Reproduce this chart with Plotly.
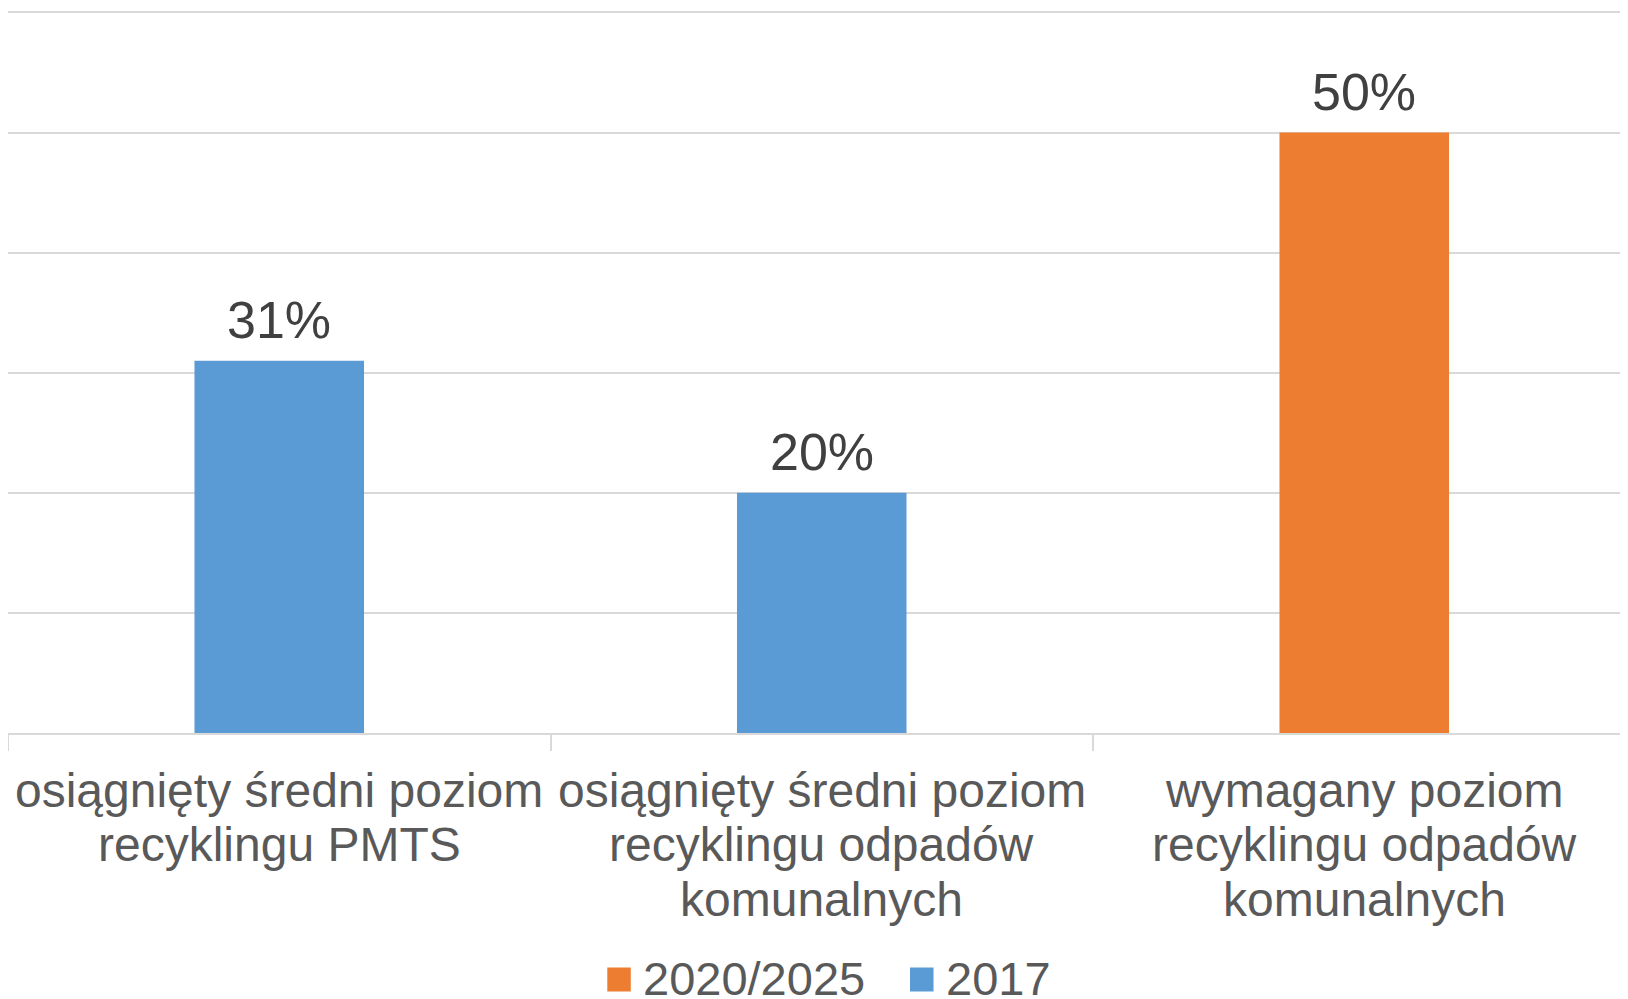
import plotly.graph_objects as go

# ---- data ----
categories = [
    "osiągnięty średni poziom<br>recyklingu PMTS",
    "osiągnięty średni poziom<br>recyklingu odpadów<br>komunalnych",
    "wymagany poziom<br>recyklingu odpadów<br>komunalnych",
]
series_2017 = [31, 20, None]
series_2020_2025 = [None, None, 50]
legend_names = ["2020/2025", "2017"]
y_ticks = [0, 10, 20, 30, 40, 50, 60]

BLUE = "#5B9BD5"
ORANGE = "#ED7D31"
FONT = "Liberation Sans, Arial, sans-serif"
TXT = "#595959"
GRID = "#D9D9D9"

OFF = 8  # default page body margin
W, H = 1640, 999 - OFF
ML, MR = 0, 0
PLOT_BOTTOM = 733 - OFF
PX_PER_UNIT = 12.01
y_range = [0, 60.2]
PH = y_range[1] * PX_PER_UNIT
MT = PLOT_BOTTOM - PH
MB = H - PLOT_BOTTOM
PW = W - ML - MR
CAT_W = 542.5
x_range = [-0.5, -0.5 + PW / CAT_W]

fig = go.Figure()
fig.add_trace(go.Bar(x=categories, y=series_2017, name="2017",
                     marker=dict(color=BLUE, line=dict(width=0)),
                     width=0.3125, showlegend=False))
fig.add_trace(go.Bar(x=categories, y=series_2020_2025, name="2020/2025",
                     marker=dict(color=ORANGE, line=dict(width=0)),
                     width=0.3125, showlegend=False))

annotations = []
# data labels
values = [a if a is not None else b for a, b in zip(series_2017, series_2020_2025)]
for cat, v in zip(categories, values):
    annotations.append(dict(x=cat, y=v, xref="x", yref="y", text=f"{v}%",
                            showarrow=False, yanchor="middle", yshift=40.5,
                            font=dict(family=FONT, size=52, color="#404040")))
# category labels, one annotation per line for tight line spacing
LINE = 54.5
for cat in categories:
    for k, line in enumerate(cat.split("<br>")):
        annotations.append(dict(x=cat, y=0, xref="x", yref="paper", text=line,
                                showarrow=False, yanchor="middle",
                                yshift=-(57 + k * LINE),
                                font=dict(family=FONT, size=48, color=TXT)))

# manual legend (screen px -> paper)
def px_to_paper_x(px):
    return (px - OFF - ML) / PW

def px_to_paper_y(py):
    return (PLOT_BOTTOM - (py - OFF)) / PH

shapes = []
legend_items = [(legend_names[0], ORANGE, 607.3, 643.0), (legend_names[1], BLUE, 910.0, 946.0)]
for name, col, sx, tx in legend_items:
    shapes.append(dict(type="rect", xref="paper", yref="paper",
                       x0=px_to_paper_x(sx), x1=px_to_paper_x(sx + 23.5),
                       y0=px_to_paper_y(991.5), y1=px_to_paper_y(967.5),
                       fillcolor=col, line=dict(width=0)))
    annotations.append(dict(x=px_to_paper_x(tx - 2), y=px_to_paper_y(978.7),
                            xref="paper", yref="paper", text=name,
                            showarrow=False, xanchor="left", yanchor="middle",
                            font=dict(family=FONT, size=47, color=TXT)))

fig.update_layout(
    width=W, height=H,
    margin=dict(l=ML, r=MR, t=MT, b=MB, pad=0),
    paper_bgcolor="white", plot_bgcolor="white",
    barmode="overlay",
    showlegend=False,
    font=dict(family=FONT, color=TXT),
    annotations=annotations,
    shapes=shapes,
    xaxis=dict(type="category", range=x_range, showticklabels=False,
               showline=True, linecolor=GRID, linewidth=1.5,
               ticks="outside", tickson="boundaries", ticklen=16,
               tickcolor=GRID, tickwidth=1.5, showgrid=False, fixedrange=True),
    yaxis=dict(range=y_range, tickvals=y_ticks, showticklabels=False,
               showgrid=True, gridcolor=GRID, gridwidth=1.5,
               zeroline=False, showline=False, fixedrange=True),
)

fig.write_html("out.html", config={"displayModeBar": False},
               post_script="document.body.style.overflow='hidden';document.documentElement.style.overflow='hidden';")
